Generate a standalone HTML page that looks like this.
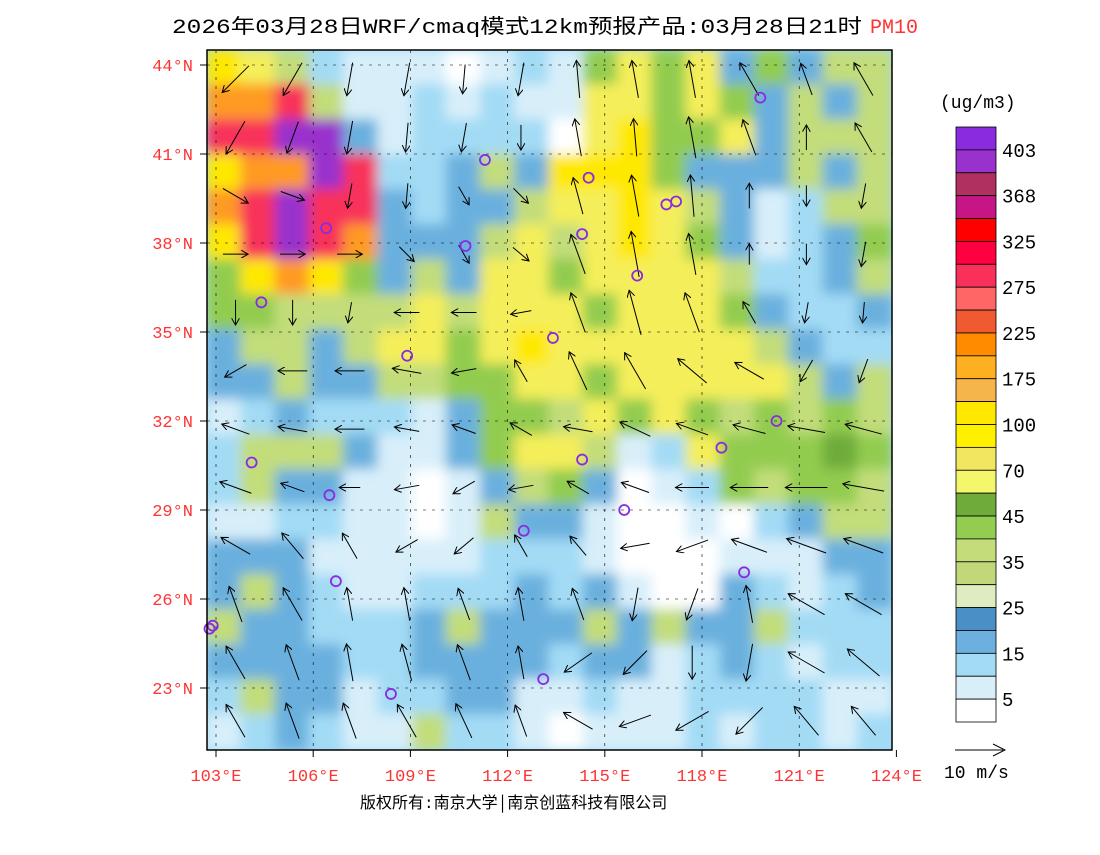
<!DOCTYPE html>
<html><head><meta charset="utf-8"><style>
body{margin:0;background:#fff;width:1100px;height:850px;overflow:hidden;font-family:"Liberation Mono","Noto Sans CJK SC",monospace}
svg text{font-family:"Liberation Mono","Noto Sans CJK SC",monospace}
</style></head><body>
<svg id="chart" width="1100" height="850" xmlns="http://www.w3.org/2000/svg">
<defs>
<clipPath id="clip"><rect x="207" y="50" width="685" height="700"/></clipPath>
<filter id="blur" filterUnits="userSpaceOnUse" x="190" y="30" width="720" height="740"><feGaussianBlur stdDeviation="6"/></filter>
<marker id="ah" markerWidth="8" markerHeight="8" refX="7" refY="4" orient="auto" markerUnits="userSpaceOnUse"><path d="M0 0 L7 4 L0 8" fill="none" stroke="#000" stroke-width="1"/></marker>
</defs>
<text x="172" y="33" font-size="20" fill="#000" textLength="690" lengthAdjust="spacingAndGlyphs">2026年03月28日WRF/cmaq模式12km预报产品:03月28日21时</text>
<text x="870" y="33" font-size="20" fill="#ff3333">PM10</text>
<g id="field" clip-path="url(#clip)"><rect x="207" y="50" width="685" height="700" fill="#a3dbf5"/><g id="cells" filter="url(#blur)"></g><g id="grid"></g><g id="wind"></g></g>
<g id="cities"></g>
<rect x="207" y="50" width="685" height="700" fill="none" stroke="#000" stroke-width="1.5"/>
<g id="axes"></g>
<text x="940" y="108" font-size="18">(ug/m3)</text>
<g id="colorbar"></g>
<line x1="955" y1="750" x2="1003" y2="750" stroke="#000"/><path d="M993 744 L1005 750 L993 756" fill="none" stroke="#000"/>
<text x="944" y="778" font-size="18">10 m/s</text>
<text x="360" y="808" font-size="16">版权所有:南京大学│南京创蓝科技有限公司</text>
</svg>
<script>
const NS="http://www.w3.org/2000/svg";
const lonTicks=[103,106,109,112,115,118,121,124];
const latTicks=[44,41,38,35,32,29,26,23];
const cbLabels=["403","368","325","275","225","175","100","70","45","35","25","15","5"];
const cbColors=["#8b2be0","#9932cc","#b03060","#c71585","#ff0000","#ff0040","#f8305a","#ff6666","#f05a30","#ff8c00","#ffb020","#f5b54a","#ffe800","#fff000","#f2e660","#f4f76a","#6eab3a","#92cc50","#c2dd7a","#c0d87a","#dfebc0","#4a8fc6","#6bb0de","#a3dbf5","#d8effa","#ffffff"];
const levels=[2,10,20,22,30,40,50,80,120,200,300,400];
const levelColors=["#ffffff","#d8effa","#a3dbf5","#6bb0de","#c2dd7a","#92cc50","#6eab3a","#f4ee5a","#ffe800","#ff9a20","#f8305a","#9932cc"];
const pm10=[
[120,80,30,20,10,10,10,2,10,20,10,40,80,40,80,22,40,22,30,30],
[200,200,300,30,10,10,20,10,20,10,10,80,80,40,80,40,22,30,22,30],
[300,300,400,400,22,10,20,20,20,20,2,80,120,40,40,80,22,30,30,30],
[120,200,200,400,300,20,20,22,30,22,120,120,120,40,22,22,22,30,22,30],
[200,300,400,300,300,22,20,22,22,30,80,80,120,80,30,22,10,20,30,30],
[120,300,400,300,200,22,22,22,30,80,30,80,120,80,40,22,10,20,22,40],
[40,120,200,120,40,22,30,22,80,80,40,80,80,80,80,30,20,20,22,30],
[40,40,30,30,30,30,80,30,80,80,80,40,80,80,80,40,22,20,20,22],
[22,30,30,22,30,80,80,40,80,120,80,80,80,80,80,80,30,22,20,20],
[22,22,30,22,22,30,30,40,40,80,80,40,80,80,80,80,80,30,22,30],
[10,20,22,20,20,20,10,22,40,40,30,80,40,80,40,30,40,30,40,30],
[20,30,30,30,22,10,10,22,40,80,80,30,10,20,80,40,40,40,50,40],
[20,30,22,22,10,10,2,10,22,30,40,22,2,10,20,40,30,40,40,30],
[10,10,20,20,10,10,2,10,30,22,22,10,2,2,10,2,20,22,30,30],
[22,22,22,10,10,10,10,10,20,20,20,10,2,2,2,10,10,10,22,22],
[22,30,22,20,10,10,20,20,20,22,20,22,10,2,2,22,20,10,20,22],
[30,22,22,20,20,20,22,30,22,22,22,30,22,30,22,22,30,20,20,20],
[22,22,22,22,20,20,22,22,22,22,20,22,22,10,20,22,20,10,20,20],
[20,30,22,22,10,20,20,22,22,10,10,20,10,10,20,20,20,20,10,10],
[10,20,22,20,10,10,30,20,20,10,2,10,10,10,20,10,20,20,10,20]];
const windDir=[
[135,120,100,100,95,100,-95,-100,-100,-120,-110,-120],
[120,110,100,95,100,90,-100,-95,-100,-110,-90,-120],
[30,20,100,95,60,45,-105,-100,-95,-90,90,100],
[0,0,0,45,60,40,-110,-100,-100,-90,90,100],
[90,90,100,180,180,170,-110,-105,-110,-120,100,95],
[150,180,180,190,170,-120,-115,-120,-140,-150,120,110],
[200,190,180,190,-160,-150,-170,-155,-160,-165,-170,-165],
[200,-160,180,170,150,170,-150,-160,180,180,180,-170],
[-150,-130,-120,150,140,-120,-130,170,160,-160,-160,-160],
[-110,-120,-100,-100,-110,-100,-110,100,110,-100,-150,-150],
[-120,-110,-100,-105,-110,-100,145,135,90,100,-150,-140],
[-120,-110,-110,-120,-115,-110,-150,160,150,135,-130,-130]];
const windSpeed=[
[9,9,8,8,7,8,9,9,9,9,8,9],
[9,8,8,7,7,6,9,9,10,9,6,8],
[7,6,6,6,5,5,9,10,10,6,5,6],
[6,6,6,5,5,5,10,11,10,5,5,6],
[6,6,5,6,6,5,10,11,10,6,5,5],
[6,7,7,7,6,6,10,10,9,8,6,6],
[7,7,7,6,6,6,7,8,8,8,9,9],
[8,6,5,6,6,6,6,7,8,9,10,10],
[8,8,7,6,6,6,6,7,8,9,10,10],
[9,9,8,8,8,8,8,8,8,9,10,10],
[9,9,9,9,9,8,8,8,8,9,10,10],
[9,9,9,9,9,8,8,8,9,9,9,9]];
const cityLon=[119.8,106.4,102.9,104.4,108.9,111.3,113.4,114.3,114.5,116.9,117.2,116.0,118.6,112.5,114.3,110.7,115.6,106.7,104.1,106.5,108.4,113.1,119.3,102.8,120.3];
const cityLat=[42.9,38.5,25.1,36.0,34.2,40.8,34.8,38.3,40.2,39.3,39.4,36.9,31.1,28.3,30.7,37.9,29.0,26.6,30.6,29.5,22.8,23.3,26.9,25.0,32.0];
function xLon(l){return 216+(l-103)*32.4;}
function yLat(l){return 65+(44-l)*89/3;}
function colorOf(v){let c=levelColors[0];for(let i=0;i<levels.length;i++){if(v>=levels[i])c=levelColors[i];}return c;}
const cells=document.getElementById('cells');
const cw=685/20,ch=700/20;
pm10.forEach((row,r)=>row.forEach((v,c)=>{
 const e=document.createElementNS(NS,'rect');
 e.setAttribute('x',207+c*cw-1);e.setAttribute('y',50+r*ch-1);e.setAttribute('width',cw+2);e.setAttribute('height',ch+2);
 e.setAttribute('fill',colorOf(v));
 
 
 cells.appendChild(e);
}));
const grid=document.getElementById('grid');
lonTicks.forEach(l=>{const k=document.createElementNS(NS,'line');const x=xLon(l);k.setAttribute('x1',x);k.setAttribute('x2',x);k.setAttribute('y1',50);k.setAttribute('y2',750);k.setAttribute('stroke','#000');k.setAttribute('stroke-width','0.6');k.setAttribute('stroke-dasharray','3 6');grid.appendChild(k);});
latTicks.forEach(l=>{const k=document.createElementNS(NS,'line');const y=yLat(l);k.setAttribute('x1',207);k.setAttribute('x2',892);k.setAttribute('y1',y);k.setAttribute('y2',y);k.setAttribute('stroke','#000');k.setAttribute('stroke-width','0.6');k.setAttribute('stroke-dasharray','3 6');grid.appendChild(k);});
const wind=document.getElementById('wind');
windDir.forEach((row,r)=>row.forEach((d,c)=>{
 const cx=207+(c+0.5)*685/12, cy=50+(r+0.5)*700/12;
 const L=windSpeed[r][c]*4.2, a=d*Math.PI/180;
 const dx=Math.cos(a)*L/2, dy=Math.sin(a)*L/2;
 const e=document.createElementNS(NS,'line');
 e.setAttribute('x1',cx-dx);e.setAttribute('y1',cy-dy);e.setAttribute('x2',cx+dx);e.setAttribute('y2',cy+dy);
 e.setAttribute('stroke','#000');e.setAttribute('stroke-width','1');e.setAttribute('marker-end','url(#ah)');
 
 
 wind.appendChild(e);
}));
const cities=document.getElementById('cities');
cityLon.forEach((lo,i)=>{
 const e=document.createElementNS(NS,'circle');
 e.setAttribute('cx',xLon(lo));e.setAttribute('cy',yLat(cityLat[i]));e.setAttribute('r',5);
 e.setAttribute('fill','none');e.setAttribute('stroke','#8a2be2');e.setAttribute('stroke-width','1.8');
 
 
 cities.appendChild(e);
});
const axes=document.getElementById('axes');
lonTicks.forEach(l=>{
 const x=xLon(l);
 const t=document.createElementNS(NS,'text');
 t.setAttribute('x',x);t.setAttribute('y',781);t.setAttribute('font-size','17');t.setAttribute('fill','#ff3333');t.setAttribute('text-anchor','middle');
 t.textContent=l+'°E';
 
 
 axes.appendChild(t);
 const k=document.createElementNS(NS,'line');k.setAttribute('x1',x);k.setAttribute('x2',x);k.setAttribute('y1',750);k.setAttribute('y2',757);k.setAttribute('stroke','#000');axes.appendChild(k);
});
latTicks.forEach(l=>{
 const y=yLat(l);
 const t=document.createElementNS(NS,'text');
 t.setAttribute('x',193);t.setAttribute('y',y+6);t.setAttribute('font-size','17');t.setAttribute('fill','#ff3333');t.setAttribute('text-anchor','end');
 t.textContent=l+'°N';
 
 
 axes.appendChild(t);
 const k=document.createElementNS(NS,'line');k.setAttribute('x1',200);k.setAttribute('x2',207);k.setAttribute('y1',y);k.setAttribute('y2',y);k.setAttribute('stroke','#000');axes.appendChild(k);
});
const cb=document.getElementById('colorbar');
const cbh=595/cbColors.length;
cbColors.forEach((c,i)=>{
 const e=document.createElementNS(NS,'rect');
 e.setAttribute('x',956);e.setAttribute('y',127+i*cbh);e.setAttribute('width',40);e.setAttribute('height',cbh);
 e.setAttribute('fill',c);e.setAttribute('stroke','#000');e.setAttribute('stroke-width','0.8');
 
 
 cb.appendChild(e);
});
cbLabels.forEach((s,i)=>{
 const t=document.createElementNS(NS,'text');
 t.setAttribute('x',1002);t.setAttribute('y',127+(2*i+1)*cbh+7);t.setAttribute('font-size','19');
 t.textContent=s;
 
 
 cb.appendChild(t);
});
</script>
</body></html>
